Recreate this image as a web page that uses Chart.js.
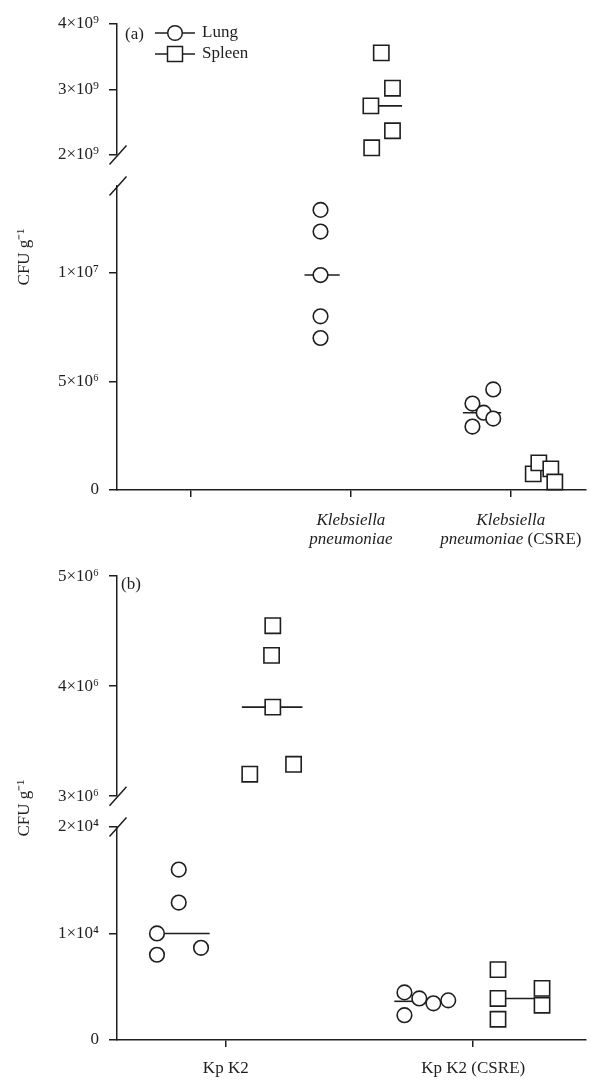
<!DOCTYPE html>
<html>
<head>
<meta charset="utf-8">
<script src="https://cdn.jsdelivr.net/npm/chart.js@4.4.0/dist/chart.umd.min.js"></script>
<style>
  html, body { margin: 0; padding: 0; background: #fff; }
  .panel { position: absolute; left: 0; }
  #wrapA { top: 0; }
  #wrapB { top: 556px; }
</style>
</head>
<body>
<div class="panel" id="wrapA"><canvas id="chart-a" width="591" height="556"></canvas></div>
<div class="panel" id="wrapB"><canvas id="chart-b" width="591" height="526"></canvas></div>
<script>
// ---- panel (a) ----
const catsA = ['', 'Klebsiella pneumoniae', 'Klebsiella pneumoniae (CSRE)'];
const topTicksA = [2e9, 3e9, 4e9];
const topLabelsA = ['2×10⁹', '3×10⁹', '4×10⁹'];
const botTicksA = [0, 5e6, 1e7];
const botLabelsA = ['0', '5×10⁶', '1×10⁷'];

// x = category index + jitter
const lungAx = [0.81, 0.81, 0.81, 0.81, 0.81, 1.76, 1.89, 1.83, 1.89, 1.76];
const lungAy = [12.9e6, 11.9e6, 9.9e6, 8.0e6, 7.0e6, 3.98e6, 4.63e6, 3.56e6, 3.29e6, 2.92e6];
const spleenAx = [1.19, 1.26, 1.125, 1.26, 1.13];
const spleenAy = [3.56e9, 3.02e9, 2.75e9, 2.37e9, 2.11e9];
const spleenCsreAx = [2.14, 2.175, 2.25, 2.275];
const spleenCsreAy = [0.74e6, 1.25e6, 0.97e6, 0.37e6];
// median bars: [x0, x1, y, axis]
const medA = [[0.71, 0.93, 9.9e6, 'yBot'], [1.125, 1.32, 2.75e9, 'yTop'], [1.70, 1.94, 3.56e6, 'yBot']];

// ---- panel (b) ----
const catsB = ['Kp K2', 'Kp K2 (CSRE)'];
const topTicksB = [3e6, 4e6, 5e6];
const topLabelsB = ['3×10⁶', '4×10⁶', '5×10⁶'];
const botTicksB = [0, 1e4, 2e4];
const botLabelsB = ['0', '1×10⁴', '2×10⁴'];

const lungBx = [-0.19, -0.19, -0.278, -0.278, -0.10, 0.722, 0.722, 0.782, 0.839, 0.899];
const lungBy = [1.60e4, 1.29e4, 1.0e4, 0.80e4, 0.865e4, 0.447e4, 0.233e4, 0.39e4, 0.344e4, 0.372e4];
const spleenBx = [0.19, 0.185, 0.19, 0.097, 0.274];
const spleenBy = [4.55e6, 4.28e6, 3.81e6, 3.20e6, 3.29e6];
const spleenCsreBx = [1.10, 1.10, 1.10, 1.278, 1.278];
const spleenCsreBy = [0.66e4, 0.39e4, 0.195e4, 0.484e4, 0.326e4];
const medB = [[0.065, 0.31, 3.81e6, 'yTop'], [-0.278, -0.065, 1.0e4, 'yBot'], [0.681, 0.754, 0.363e4, 'yBot'], [1.10, 1.278, 0.39e4, 'yBot']];

const INK = '#1e1e1e';
const FONT = 'Liberation Serif';
Chart.defaults.font.family = FONT;
Chart.defaults.font.size = 17;
Chart.defaults.color = INK;

function pts(xs, ys) { return xs.map((x, i) => ({x: x, y: ys[i]})); }

function circles(xs, ys, axis) {
  return { data: pts(xs, ys), yAxisID: axis, clip: false, pointStyle: 'circle', pointRadius: 7.3,
    pointBorderWidth: 1.6, pointBorderColor: INK, pointBackgroundColor: '#fff', showLine: false };
}
function squares(xs, ys, axis) {
  return { data: pts(xs, ys), yAxisID: axis, clip: false, pointStyle: 'rect', pointRadius: 10.8,
    pointBorderWidth: 1.6, pointBorderColor: INK, pointBackgroundColor: '#fff', showLine: false };
}
function medians(list) {
  return list.map(m => ({ data: [{x: m[0], y: m[2]}, {x: m[1], y: m[2]}], yAxisID: m[3], clip: false,
    showLine: true, borderColor: INK, borderWidth: 1.6, pointRadius: 0 }));
}

function yScale(ticks, labels, min, max, weight, order) {
  return {
    type: 'linear', position: 'left', stack: 'y', stackWeight: weight, weight: order,
    min: min, max: max,
    afterBuildTicks: s => { s.ticks = ticks.map(v => ({value: v})); },
    afterFit: s => { s.width = 117; },
    ticks: { padding: 10, callback: v => labels[ticks.indexOf(v)] },
    grid: { display: true, drawOnChartArea: false, drawTicks: true, tickLength: 8, color: INK, lineWidth: 1.5 },
    border: { display: true, color: INK, width: 1.5 }
  };
}
function gapScale(weight) {
  return {
    type: 'linear', position: 'left', stack: 'y', stackWeight: weight, weight: 2, min: 0, max: 1,
    afterFit: s => { s.width = 117; },
    ticks: { display: false }, grid: { display: false }, border: { display: false }
  };
}
function xScale(min, max, ticks, height) {
  return {
    type: 'linear', position: 'bottom', min: min, max: max,
    afterBuildTicks: s => { s.ticks = ticks.map(v => ({value: v})); },
    afterFit: s => { s.height = height; },
    ticks: { display: false },
    grid: { display: true, drawOnChartArea: false, drawTicks: true, tickLength: 7, color: INK, lineWidth: 1.5 },
    border: { display: true, color: INK, width: 1.5 }
  };
}

// break marks, panel letter, legend, axis title, category labels
const decor = {
  id: 'decor',
  afterDraw(chart, args, o) {
    const ctx = chart.ctx, area = chart.chartArea;
    const top = chart.scales.yTop, bot = chart.scales.yBot, xs = chart.scales.x;
    ctx.save();
    ctx.strokeStyle = INK; ctx.fillStyle = INK; ctx.lineWidth = 1.5;
    [top.bottom, bot.top].forEach(yb => {
      ctx.beginPath();
      ctx.moveTo(area.left - 7.5, yb + 9.5);
      ctx.lineTo(area.left + 9.5, yb - 9.5);
      ctx.stroke();
    });
    ctx.font = '17px ' + FONT;
    ctx.textBaseline = 'middle';
    ctx.textAlign = 'left';
    ctx.fillText(o.letter, o.letterX, area.top + o.letterDy);

    if (o.legend) {
      const lx = 155, ly = [area.top + 9, area.top + 30];
      ly.forEach((y, i) => {
        ctx.beginPath(); ctx.moveTo(lx, y); ctx.lineTo(lx + 40, y); ctx.stroke();
        ctx.beginPath();
        if (i === 0) ctx.arc(lx + 20, y, 7.3, 0, Math.PI * 2);
        else ctx.rect(lx + 12.5, y - 7.5, 15, 15);
        ctx.fillStyle = '#fff'; ctx.fill(); ctx.stroke();
        ctx.fillStyle = INK;
        ctx.fillText(o.legend[i], lx + 47, y);
      });
    }

    // y title
    ctx.save();
    ctx.translate(25, (area.top + area.bottom) / 2);
    ctx.rotate(-Math.PI / 2);
    ctx.textAlign = 'center';
    ctx.fillText('CFU g⁻¹', 0, 0);
    ctx.restore();

    // category labels
    o.cats.forEach((c, i) => {
      if (!c) return;
      const cx = xs.getPixelForValue(i);
      const words = c.split(' ');
      const lines = o.italic ? [words.slice(0, 1), words.slice(1)] : [words];
      lines.forEach((ws, li) => {
        const segs = ws.map((w, k) => ({ t: (k ? ' ' : '') + w,
          f: (o.italic && w[0] !== '(' ? 'italic ' : '') + '17px ' + FONT }));
        let tw = 0;
        segs.forEach(s => { ctx.font = s.f; s.w = ctx.measureText(s.t).width; tw += s.w; });
        let x = cx - tw / 2;
        segs.forEach(s => { ctx.font = s.f; ctx.fillText(s.t, x, o.labelY + li * 19); x += s.w; });
      });
    });
    ctx.restore();
  }
};

const baseOpts = {
  responsive: false, animation: false, events: [],
  plugins: { legend: { display: false }, tooltip: { enabled: false } }
};

const configA = {
  type: 'scatter',
  data: { datasets: [
    circles(lungAx.slice(0, 5), lungAy.slice(0, 5), 'yBot'),
    circles(lungAx.slice(5), lungAy.slice(5), 'yBot'),
    squares(spleenAx, spleenAy, 'yTop'),
    squares(spleenCsreAx, spleenCsreAy, 'yBot'),
    ...medians(medA)
  ]},
  options: Object.assign({}, baseOpts, {
    layout: { autoPadding: false, padding: { top: 24, left: 0, right: 5, bottom: 0 } },
    scales: {
      x: xScale(-0.4625, 2.47, [0, 1, 2], 66),
      yBot: yScale(botTicksA, botLabelsA, 0, 1.4e7, 304, 1),
      yGap: gapScale(31),
      yTop: yScale(topTicksA, topLabelsA, 2e9, 4e9, 131, 3)
    },
    plugins: Object.assign({}, baseOpts.plugins, {
      decor: { letter: '(a)', letterX: 125, letterDy: 11, legend: ['Lung', 'Spleen'], cats: catsA, italic: true, labelY: 521 }
    })
  }),
  plugins: [decor]
};

const configB = {
  type: 'scatter',
  data: { datasets: [
    circles(lungBx, lungBy, 'yBot'),
    squares(spleenBx, spleenBy, 'yTop'),
    squares(spleenCsreBx, spleenCsreBy, 'yBot'),
    ...medians(medB)
  ]},
  options: Object.assign({}, baseOpts, {
    layout: { autoPadding: false, padding: { top: 16, left: 0, right: 5, bottom: 0 } },
    scales: {
      x: xScale(-0.4395, 1.4556, [0, 1], 42),
      yBot: yScale(botTicksB, botLabelsB, 0, 2e4, 215, 1),
      yGap: gapScale(31),
      yTop: yScale(topTicksB, topLabelsB, 3e6, 5e6, 222, 3)
    },
    plugins: Object.assign({}, baseOpts.plugins, {
      decor: { letter: '(b)', letterX: 121, letterDy: 8, legend: null, cats: catsB, italic: false, labelY: 513 }
    })
  }),
  plugins: [decor]
};

const chartA = new Chart(document.getElementById('chart-a'), configA);
const chartB = new Chart(document.getElementById('chart-b'), configB);
</script>
</body>
</html>
